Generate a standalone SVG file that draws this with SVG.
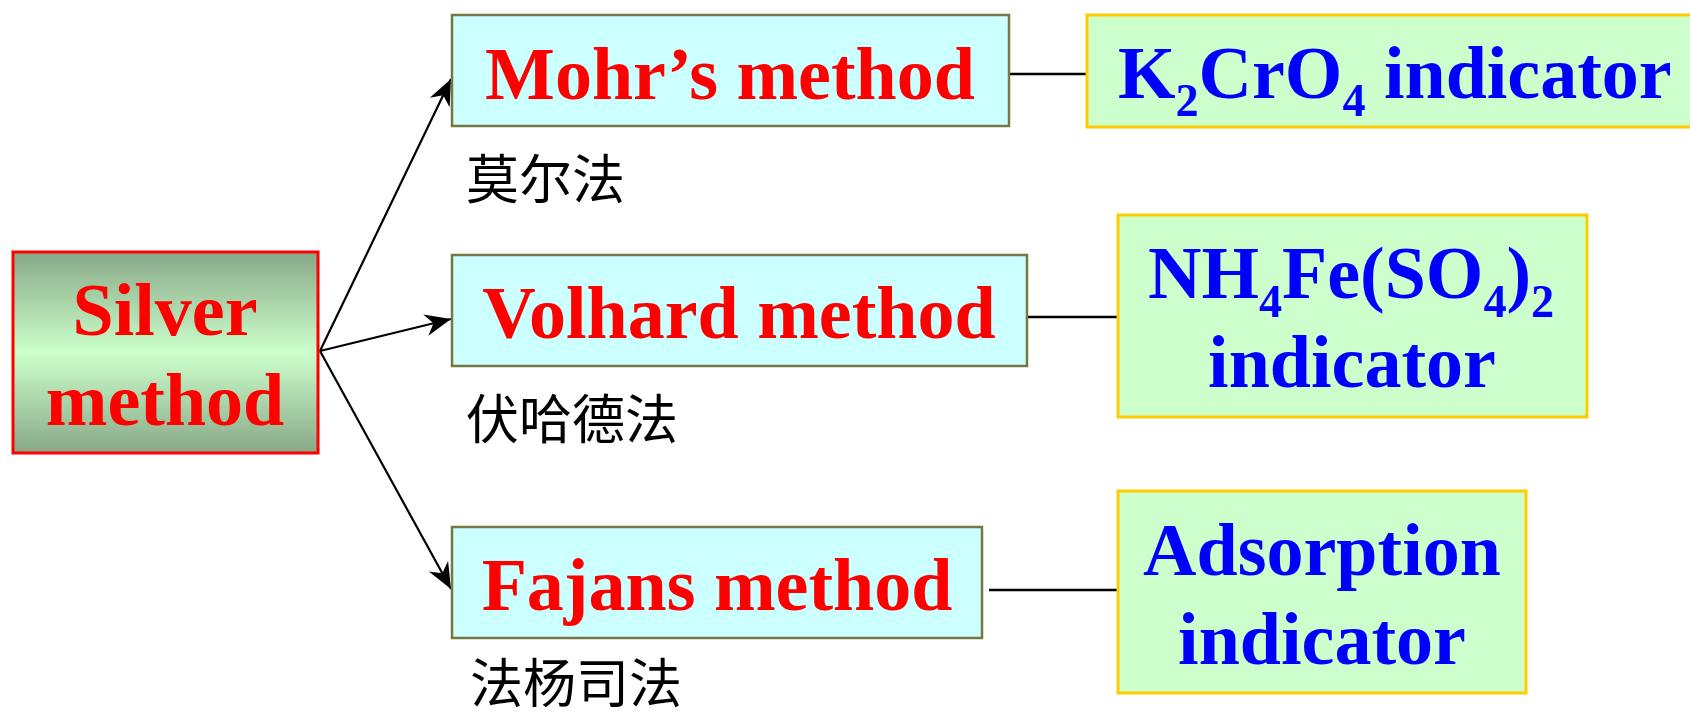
<svg xmlns="http://www.w3.org/2000/svg" width="1690" height="716" viewBox="0 0 1690 716">
  <style>
    .en { font-family: "Liberation Serif", "Times New Roman", serif; font-weight: bold; font-size: 74px; }
    .red { fill: #ff0000; }
    .blue { fill: #0000ff; }
    .sub { font-size: 46px; }
    .cn { font-family: "Noto Sans CJK SC", sans-serif; font-size: 53px; fill: #000000; }
    .method { fill: #ccffff; stroke: #777744; stroke-width: 2.5; }
    .indicator { fill: #ccffcc; stroke: #ffcc00; stroke-width: 3; }
    .link { stroke: #000000; stroke-width: 2.5; fill: none; }
    .arrow { stroke: #000000; stroke-width: 2.2; fill: none; marker-end: url(#head); }
  </style>
  <defs>
    <linearGradient id="silverFill" x1="0" y1="0" x2="0" y2="1">
      <stop offset="0" stop-color="#88a887"/>
      <stop offset="0.5" stop-color="#ccffcc"/>
      <stop offset="1" stop-color="#88a887"/>
    </linearGradient>
    <marker id="head" markerUnits="userSpaceOnUse" markerWidth="30" markerHeight="30" viewBox="-28 -14 30 28" refX="0" refY="0" orient="auto">
      <path d="M0,0 L-26,-11 L-18,0 L-26,11 Z" fill="#000000"/>
    </marker>
  </defs>

  <!-- connectors -->
  <g id="connectors">
    <line class="arrow" x1="320" y1="351" x2="451" y2="79"/>
    <line class="arrow" x1="320" y1="351" x2="451" y2="319"/>
    <line class="arrow" x1="320" y1="351" x2="451" y2="589"/>
    <line class="link" x1="1009" y1="74" x2="1087" y2="74"/>
    <line class="link" x1="1027" y1="317" x2="1118" y2="317"/>
    <line class="link" x1="989" y1="590" x2="1118" y2="590"/>
  </g>

  <!-- root -->
  <g id="silver">
    <rect x="13" y="252" width="305" height="201" fill="url(#silverFill)" stroke="#ff0000" stroke-width="3"/>
    <text class="en red" x="165" y="335" text-anchor="middle">Silver</text>
    <text class="en red" x="165" y="425" text-anchor="middle">method</text>
  </g>

  <!-- methods -->
  <g id="mohr">
    <rect class="method" x="452" y="15" width="557" height="111"/>
    <text class="en red" x="730" y="99" text-anchor="middle">Mohr’s method</text>
    <text class="cn" x="466" y="199">莫尔法</text>
  </g>
  <g id="volhard">
    <rect class="method" x="452" y="255" width="575" height="111"/>
    <text class="en red" x="739" y="338" text-anchor="middle">Volhard method</text>
    <text class="cn" x="466" y="439">伏哈德法</text>
  </g>
  <g id="fajans">
    <rect class="method" x="452" y="527" width="530" height="111"/>
    <text class="en red" x="717" y="610" text-anchor="middle">Fajans method</text>
    <text class="cn" x="470" y="703">法杨司法</text>
  </g>

  <!-- indicators -->
  <g id="k2cro4">
    <rect class="indicator" x="1087" y="15" width="620" height="112"/>
    <text class="en blue" x="1118" y="98">K<tspan class="sub" dy="18">2</tspan><tspan dy="-18">CrO</tspan><tspan class="sub" dy="18">4</tspan><tspan dy="-18"> indicator</tspan></text>
  </g>
  <g id="iron-alum">
    <rect class="indicator" x="1118" y="215" width="469" height="202"/>
    <text class="en blue" x="1351" y="298" text-anchor="middle">NH<tspan class="sub" dy="19">4</tspan><tspan dy="-19">Fe(SO</tspan><tspan class="sub" dy="19">4</tspan><tspan dy="-19">)</tspan><tspan class="sub" dy="19">2</tspan></text>
    <text class="en blue" x="1352" y="387" text-anchor="middle">indicator</text>
  </g>
  <g id="adsorption">
    <rect class="indicator" x="1118" y="491" width="408" height="202"/>
    <text class="en blue" x="1322" y="575" text-anchor="middle">Adsorption</text>
    <text class="en blue" x="1322" y="664" text-anchor="middle">indicator</text>
  </g>
</svg>
